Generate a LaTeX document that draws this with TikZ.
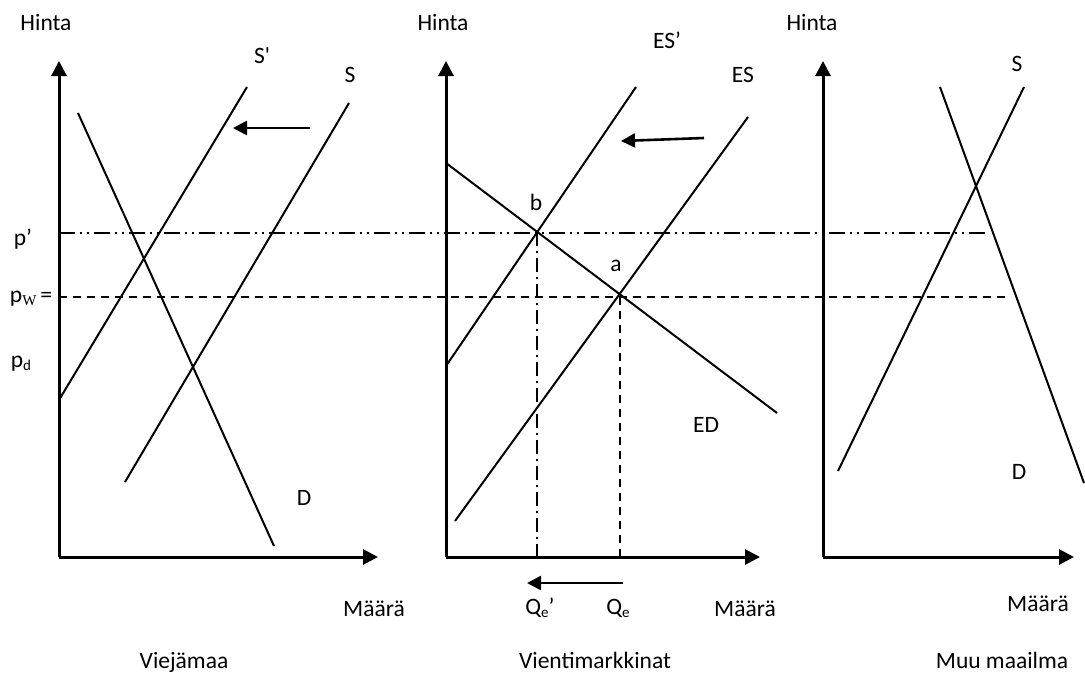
\documentclass[tikz,border=0pt]{standalone}
\usepackage{fontspec}
\setmainfont{Carlito}
\newfontfamily\rawcal[Ligatures=ResetAll]{Carlito}
\newfontfamily\tnr{Liberation Serif}
\usetikzlibrary{arrows.meta}
\newcommand\lowsub[1]{\raisebox{-0.35ex}{\fontsize{15}{15}\selectfont #1}}
\begin{document}
\begin{tikzpicture}[x=1pt,y=-1pt,
  every node/.style={font=\fontsize{23.5}{28}\selectfont, inner sep=0pt, anchor=base},
  axis/.style={line width=3pt, -{Triangle[length=15pt,width=15pt]}},
  curve/.style={line width=2pt},
  shiftarrow/.style={line width=2.6pt, -{Triangle[length=14pt,width=14pt]}},
  dd/.style={line width=1.8pt, dash pattern=on 16pt off 5pt on 2pt off 5pt on 2pt off 5pt},
  ds/.style={line width=1.8pt, dash pattern=on 8pt off 6pt},
  dsv/.style={line width=1.8pt, dash pattern=on 8pt off 6pt},
  ddv/.style={line width=1.8pt, dash pattern=on 14pt off 5pt on 2pt off 5pt}]
\useasboundingbox (0,0) rectangle (1085,673);
\fill[white] (0,0) rectangle (1085,673);

% ---------- coordinates ----------
\coordinate (O1) at (59,557);
\coordinate (Y1) at (59,61);
\coordinate (X1) at (378,557);
\coordinate (O2) at (446,557);
\coordinate (Y2) at (446,61);
\coordinate (X2) at (760,557);
\coordinate (O3) at (823,557);
\coordinate (Y3) at (823,61);
\coordinate (X3) at (1074,557);

% price lines
\coordinate (pp0) at (59,233);
\coordinate (pp1) at (985,233);
\coordinate (pw0) at (59,297);
\coordinate (pw1) at (1010,297);

% left panel curves
\coordinate (D1a) at (78,113);
\coordinate (D1b) at (274,546);
\coordinate (Sp1a) at (59,400);
\coordinate (Sp1b) at (247,87);
\coordinate (S1a) at (125,482);
\coordinate (S1b) at (349,103);
\coordinate (A1a) at (310,128);
\coordinate (A1b) at (233,128);

% middle panel curves
\coordinate (EDa) at (446,163);
\coordinate (EDb) at (777,413);
\coordinate (ESpa) at (446,366);
\coordinate (ESpb) at (636,87);
\coordinate (ESa) at (455,521);
\coordinate (ESb) at (748,117);
\coordinate (A2a) at (704,138);
\coordinate (A2b) at (621,141);
\coordinate (b) at (537,232);
\coordinate (a) at (620,297);
\coordinate (bq) at (537,557);
\coordinate (aq) at (620,557);
\coordinate (A3a) at (623,583);
\coordinate (A3b) at (527,583);

% right panel curves
\coordinate (D3a) at (940,87);
\coordinate (D3b) at (1084,483);
\coordinate (S3a) at (1024,87);
\coordinate (S3b) at (838,471);

% ---------- drawing ----------
\draw[dd] (pp0) -- (pp1);
\draw[ds] (pw0) -- (pw1);
\draw[ddv] (b) -- (bq);
\draw[dsv] (a) -- (aq);

\draw[axis] (O1) -- (Y1);
\draw[axis] (O1) -- (X1);
\draw[axis] (O2) -- (Y2);
\draw[axis] (O2) -- (X2);
\draw[axis] (O3) -- (Y3);
\draw[axis] (O3) -- (X3);

\draw[curve] (D1a) -- (D1b);
\draw[curve] (Sp1a) -- (Sp1b);
\draw[curve] (S1a) -- (S1b);
\draw[shiftarrow] (A1a) -- (A1b);

\draw[curve] (EDa) -- (EDb);
\draw[curve] (ESpa) -- (ESpb);
\draw[curve] (ESa) -- (ESb);
\draw[shiftarrow] (A2a) -- (A2b);
\draw[shiftarrow] (A3a) -- (A3b);

\draw[curve] (D3a) -- (D3b);
\draw[curve] (S3a) -- (S3b);

% ---------- labels ----------
\node (h1) at (46,30) {Hinta};
\node (h2) at (443,30) {Hinta};
\node (h3) at (812,30) {Hinta};

\node (lSp) at (262,63) {\rawcal S'};
\node (lS) at (350,82) {S};
\node (lD1) at (304,505) {D};
\node (lpp) at (23,245) {p’};
\node (lpw) at (31,302) {p\lowsub{\tnr W}\,=};
\node (lpd) at (21,367) {p\lowsub{d}};
\node (m1) at (374,616) {Määrä};
\node (t1) at (184,668) {Viejämaa};

\node (lESp) at (667,48) {ES’};
\node (lES) at (743,82) {ES};
\node (lED) at (706,432) {ED};
\node (lb) at (536,210) {b};
\node (la) at (616,271) {a};
\node (lQep) at (540,614) {Q\lowsub{e}’};
\node (lQe) at (618,614) {Q\lowsub{e}};
\node (m2) at (745,616) {Määrä};
\node (t2) at (595,668) {Vientimarkkinat};

\node (lS3) at (1017,71) {S};
\node (lD3) at (1019,479) {D};
\node (m3) at (1038,611) {Määrä};
\node (t3) at (1002,668) {Muu maailma};
\end{tikzpicture}
\end{document}
